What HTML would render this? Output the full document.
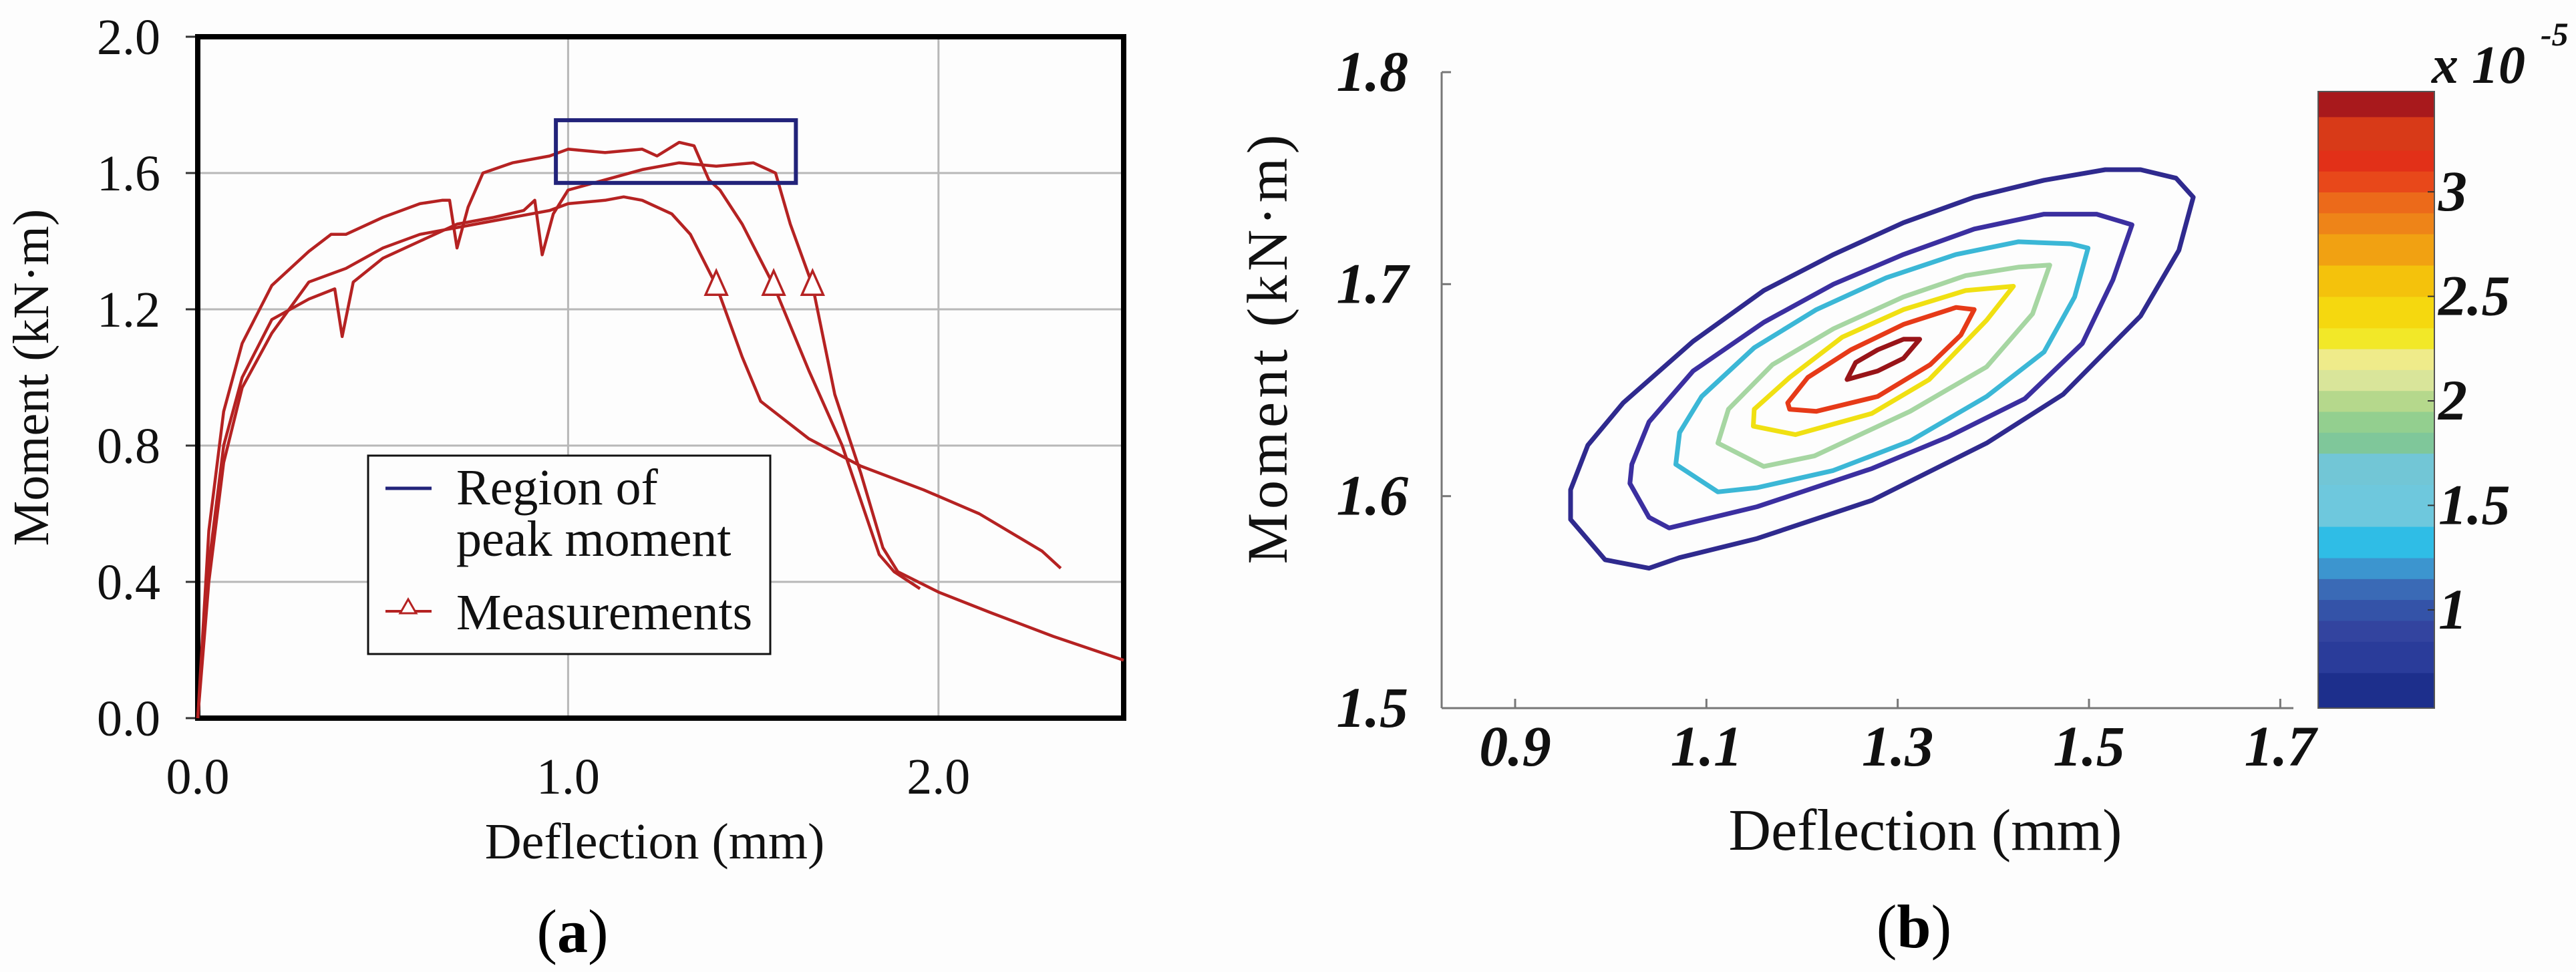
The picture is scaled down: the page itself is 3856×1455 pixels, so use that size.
<!DOCTYPE html>
<html><head><meta charset="utf-8"><style>
html,body{margin:0;padding:0;background:#fdfdfd;}
svg{display:block;font-family:"Liberation Serif",serif;}
</style></head><body>
<svg id="fig" xmlns="http://www.w3.org/2000/svg" width="3856" height="1455" viewBox="0 0 3856 1455">
<rect x="0" y="0" width="3856" height="1455" fill="#fdfdfd"/>
<g id="pa"></g>
<g id="pb"></g>
</svg>
<script>
// ---------- Panel (a) data ----------
const aXTicks = [0, 1, 2];
const aXTickLabels = ["0.0", "1.0", "2.0"];
const aYTicks = [0, 0.4, 0.8, 1.2, 1.6, 2.0];
const aYTickLabels = ["0.0", "0.4", "0.8", "1.2", "1.6", "2.0"];
const curveTopX = [0,0.03,0.07,0.12,0.2,0.3,0.36,0.4,0.5,0.6,0.66,0.68,0.70,0.73,0.77,0.85,0.95,1.0,1.1,1.2,1.24,1.3,1.34,1.38,1.41,1.47,1.555,1.65,1.74,1.84,1.88,1.95];
const curveTopY = [0,0.55,0.9,1.1,1.27,1.37,1.42,1.42,1.47,1.51,1.52,1.52,1.38,1.50,1.60,1.63,1.65,1.67,1.66,1.67,1.65,1.69,1.68,1.58,1.55,1.45,1.27,1.02,0.80,0.48,0.43,0.38];
const curveMidX = [0,0.03,0.07,0.12,0.2,0.3,0.37,0.39,0.42,0.5,0.6,0.7,0.8,0.88,0.91,0.93,0.96,1.0,1.1,1.2,1.3,1.4,1.5,1.56,1.6,1.66,1.72,1.79,1.85,1.89,2.0,2.14,2.31,2.5];
const curveMidY = [0,0.45,0.8,1.0,1.17,1.23,1.26,1.12,1.28,1.35,1.40,1.45,1.47,1.49,1.52,1.36,1.48,1.55,1.58,1.61,1.63,1.62,1.63,1.60,1.45,1.27,0.95,0.72,0.50,0.43,0.37,0.31,0.24,0.17];
const curveLowX = [0,0.03,0.07,0.12,0.2,0.3,0.4,0.5,0.6,0.7,0.8,0.9,0.95,1.0,1.1,1.15,1.2,1.28,1.33,1.40,1.47,1.52,1.65,1.79,1.96,2.11,2.28,2.33];
const curveLowY = [0,0.4,0.75,0.97,1.13,1.28,1.32,1.38,1.42,1.44,1.46,1.48,1.49,1.51,1.52,1.53,1.52,1.48,1.42,1.27,1.06,0.93,0.82,0.74,0.67,0.60,0.49,0.44];
const measX = [1.40, 1.555, 1.66];
const measY = [1.27, 1.27, 1.27];
const peakRegion = [0.967, 1.615, 1.571, 1.755]; // x0, x1, y0, y1

// ---------- Panel (b) data ----------
const bXTicks = [0.9, 1.1, 1.3, 1.5, 1.7];
const bXTickLabels = ["0.9", "1.1", "1.3", "1.5", "1.7"];
const bYTicks = [1.5, 1.6, 1.7, 1.8];
const bYTickLabels = ["1.5", "1.6", "1.7", "1.8"];
const cbTicks = [1, 1.5, 2, 2.5, 3];
const cbTickLabels = ["1", "1.5", "2", "2.5", "3"];
const cbBandEdges = [0.53,0.7,0.85,0.95,1.05,1.15,1.25,1.4,1.6,1.75,1.85,1.95,2.05,2.15,2.25,2.35,2.5,2.65,2.8,2.9,3.0,3.1,3.2,3.36,3.48];
const cbBandColors = ["#1d2f8c","#2a3c9a","#33449f","#3453a8","#3a6ab6","#3c95cf","#2fbde6","#6ec8dd","#72c6d6","#7fc79a","#93cf8f","#b5d88c","#d9e59a","#efeb8a","#f2e828","#f5d80f","#f4c20c","#f1a112","#ee8418","#ec6a1a","#e8481a","#e23018","#d83a18","#a8191c"];
const contourLevels = [0.7, 1.0, 1.5, 2.0, 2.5, 3.0, 3.4];
const contourColors = ["#2f2a8e","#3b2fa0","#3bb7d6","#a6d6a2","#f0e012","#e63a18","#981418"];
const contourX = [
 [0.958,0.994,1.040,1.072,1.153,1.273,1.393,1.473,1.554,1.594,1.609,1.591,1.554,1.517,1.453,1.380,1.306,1.233,1.160,1.086,1.013,0.976,0.958],
 [1.020,1.040,1.061,1.153,1.273,1.353,1.433,1.493,1.525,1.545,1.508,1.453,1.380,1.306,1.233,1.160,1.086,1.040,1.022],
 [1.068,1.112,1.153,1.232,1.313,1.393,1.453,1.485,1.499,1.481,1.426,1.361,1.288,1.215,1.150,1.095,1.072],
 [1.112,1.160,1.213,1.313,1.393,1.441,1.459,1.426,1.371,1.306,1.233,1.169,1.123],
 [1.149,1.193,1.273,1.333,1.393,1.421,1.371,1.306,1.242,1.187,1.150],
 [1.187,1.215,1.279,1.334,1.366,1.380,1.361,1.306,1.251,1.206,1.185],
 [1.247,1.279,1.306,1.323,1.306,1.279,1.256]
];
const contourY = [
 [1.589,1.570,1.566,1.571,1.580,1.598,1.625,1.648,1.685,1.716,1.741,1.750,1.754,1.754,1.749,1.741,1.729,1.714,1.697,1.673,1.644,1.624,1.603],
 [1.606,1.590,1.585,1.595,1.613,1.628,1.646,1.672,1.702,1.728,1.733,1.733,1.726,1.714,1.700,1.682,1.659,1.635,1.615],
 [1.615,1.602,1.604,1.612,1.626,1.647,1.668,1.694,1.717,1.719,1.720,1.714,1.703,1.688,1.670,1.647,1.630],
 [1.625,1.614,1.619,1.640,1.661,1.686,1.709,1.708,1.704,1.694,1.679,1.662,1.641],
 [1.633,1.629,1.639,1.655,1.683,1.699,1.697,1.688,1.675,1.656,1.641],
 [1.641,1.640,1.647,1.662,1.676,1.688,1.689,1.681,1.669,1.656,1.644],
 [1.655,1.659,1.665,1.674,1.674,1.669,1.663]
];

const NS = "http://www.w3.org/2000/svg";
function mk(parent, tag, attrs, text) {
  const e = document.createElementNS(NS, tag);
  for (const k in attrs) e.setAttribute(k, attrs[k]);
  if (text !== undefined) e.textContent = text;
  parent.appendChild(e);
  return e;
}

// ===== Panel (a) =====
const pa = document.getElementById("pa");
const aL = 296, aR = 1682, aT = 55, aB = 1075;
const ax = v => aL + (v - 0) / 2.5 * (aR - aL);
const ay = v => aB - v / 2.0 * (aB - aT);

mk(pa, "rect", {x: aL, y: aT, width: aR - aL, height: aB - aT, fill: "#fdfdfd"});
aXTicks.forEach((t, i) => {
  if (t > 0) {
    const g = mk(pa, "line", {x1: ax(t), x2: ax(t), y1: aT, y2: aB, stroke: "#b8b8b8", "stroke-width": 3});
    
    
  }
  const l = mk(pa, "text", {x: ax(t), y: 1188, "font-size": 76, "text-anchor": "middle", fill: "#111"}, aXTickLabels[i]);
  
  
});
aYTicks.forEach((t, i) => {
  if (t > 0 && t < 2) {
    const g = mk(pa, "line", {x1: aL, x2: aR, y1: ay(t), y2: ay(t), stroke: "#b8b8b8", "stroke-width": 3});
    
    
  }
  mk(pa, "line", {x1: aL - 18, x2: aL, y1: ay(t), y2: ay(t), stroke: "#333", "stroke-width": 3});
  const l = mk(pa, "text", {x: 240, y: ay(t) + 26, "font-size": 76, "text-anchor": "end", fill: "#111"}, aYTickLabels[i]);
  
  
});
const frameA = mk(pa, "rect", {x: aL, y: aT, width: aR - aL, height: aB - aT, fill: "none", stroke: "#000", "stroke-width": 8});



function curve(xs, ys, name) {
  const d = xs.map((x, i) => (i ? "L" : "M") + ax(x).toFixed(1) + "," + ay(ys[i]).toFixed(1)).join(" ");
  const p = mk(pa, "path", {d: d, fill: "none", stroke: "#b52222", "stroke-width": 4.5, "stroke-linejoin": "round"});
  
  
}
curve(curveLowX, curveLowY, "specimen-curve-low");
curve(curveMidX, curveMidY, "specimen-curve-mid");
curve(curveTopX, curveTopY, "specimen-curve-top");

measX.forEach((x, i) => {
  const cx = ax(x), cy = ay(measY[i]);
  const t = mk(pa, "polygon", {points: `${cx},${cy-22} ${cx-16},${cy+14} ${cx+16},${cy+14}`, fill: "#fff", stroke: "#b52222", "stroke-width": 3.5});
  
  
});

const pr = mk(pa, "rect", {x: ax(peakRegion[0]), y: ay(peakRegion[3]), width: ax(peakRegion[1]) - ax(peakRegion[0]), height: ay(peakRegion[2]) - ay(peakRegion[3]), fill: "none", stroke: "#22237a", "stroke-width": 6});



// legend
const lg = mk(pa, "g", {});


mk(lg, "rect", {x: 551, y: 682, width: 602, height: 297, fill: "#fdfdfd", stroke: "#111", "stroke-width": 3});
const l1 = mk(lg, "line", {x1: 577, x2: 646, y1: 731, y2: 731, stroke: "#22237a", "stroke-width": 5});


const t1 = mk(lg, "text", {x: 683, y: 755, "font-size": 76, fill: "#111"}, "Region of");


mk(lg, "text", {x: 683, y: 832, "font-size": 76, fill: "#111"}, "peak moment");
const l2 = mk(lg, "line", {x1: 577, x2: 646, y1: 915, y2: 915, stroke: "#b52222", "stroke-width": 4});


mk(lg, "polygon", {points: "611,897 599,918 623,918", fill: "#fff", stroke: "#b52222", "stroke-width": 3});
const t2 = mk(lg, "text", {x: 683, y: 942, "font-size": 76, fill: "#111"}, "Measurements");



const axt = mk(pa, "text", {x: 980, y: 1285, "font-size": 76, "text-anchor": "middle", fill: "#111"}, "Deflection (mm)");


const ayt = mk(pa, "text", {x: 0, y: 0, "font-size": 76, "text-anchor": "middle", fill: "#111", transform: "translate(72,565) rotate(-90)"}, "Moment (kN·m)");


const capA = mk(pa, "text", {x: 857, y: 1425, "font-size": 92, "text-anchor": "middle", fill: "#000"});


mk(capA, "tspan", {}, "(");
mk(capA, "tspan", {"font-weight": "bold"}, "a");
mk(capA, "tspan", {}, ")");

// ===== Panel (b) =====
const pb = document.getElementById("pb");
const bL = 2158, bR = 3433, bT = 108, bB = 1060;
const bxPer = (3127 - 2268) / 0.6;
const bx = v => 2268 + (v - 0.9) * bxPer;
const by = v => bB - (v - 1.5) / 0.3 * (bB - bT);

mk(pb, "line", {x1: bL, x2: bL, y1: bT, y2: bB, stroke: "#777", "stroke-width": 3});
mk(pb, "line", {x1: bL, x2: bR, y1: bB, y2: bB, stroke: "#777", "stroke-width": 3});
bXTicks.forEach((t, i) => {
  mk(pb, "line", {x1: bx(t), x2: bx(t), y1: bB, y2: bB - 14, stroke: "#777", "stroke-width": 3});
  const l = mk(pb, "text", {x: bx(t), y: 1146, "font-size": 86, "font-style": "italic", "font-weight": "bold", "text-anchor": "middle", fill: "#111"}, bXTickLabels[i]);
  
  
});
bYTicks.forEach((t, i) => {
  mk(pb, "line", {x1: bL, x2: bL + 14, y1: by(t), y2: by(t), stroke: "#777", "stroke-width": 3});
  const l = mk(pb, "text", {x: 2108, y: by(t) + 28, "font-size": 86, "font-style": "italic", "font-weight": "bold", "text-anchor": "end", fill: "#111"}, bYTickLabels[i]);
  
  
});

contourX.forEach((xs, k) => {
  const d = xs.map((x, i) => (i ? "L" : "M") + bx(x).toFixed(1) + "," + by(contourY[k][i]).toFixed(1)).join(" ") + " Z";
  const p = mk(pb, "path", {d: d, fill: "none", stroke: contourColors[k], "stroke-width": 7, "stroke-linejoin": "round"});
  
  
});

// colorbar
const cbL = 3470, cbR = 3644, cbT = 137, cbB = 1060;
const cbMin = 0.53, cbMax = 3.48;
const cy = v => cbB - (v - cbMin) / (cbMax - cbMin) * (cbB - cbT);
const cb = mk(pb, "g", {});


cbBandColors.forEach((c, i) => {
  const y0 = cy(cbBandEdges[i + 1]), y1 = cy(cbBandEdges[i]);
  const r = mk(cb, "rect", {x: cbL, y: y0, width: cbR - cbL, height: y1 - y0 + 0.8, fill: c});
  
  
});
mk(cb, "rect", {x: cbL, y: cbT, width: cbR - cbL, height: cbB - cbT, fill: "none", stroke: "#555", "stroke-width": 2});
cbTicks.forEach((t, i) => {
  mk(cb, "line", {x1: cbR - 10, x2: cbR, y1: cy(t), y2: cy(t), stroke: "#333", "stroke-width": 2});
  const l = mk(cb, "text", {x: 3650, y: cy(t) + 28, "font-size": 86, "font-style": "italic", "font-weight": "bold", fill: "#111"}, cbTickLabels[i]);
  
  
});
const sc = mk(pb, "text", {x: 3640, y: 124, "font-size": 80, "font-style": "italic", "font-weight": "bold", fill: "#111"}, "x 10");


mk(pb, "text", {x: 3803, y: 68, "font-size": 50, "font-style": "italic", "font-weight": "bold", fill: "#111"}, "-5");

const bxt = mk(pb, "text", {x: 2882, y: 1272, "font-size": 88, "text-anchor": "middle", fill: "#111"}, "Deflection (mm)");


const byt = mk(pb, "text", {x: 0, y: 0, "font-size": 86, "text-anchor": "middle", fill: "#111", "letter-spacing": 6, transform: "translate(1926,520) rotate(-90)"}, "Moment (kN·m)");


const capB = mk(pb, "text", {x: 2865, y: 1418, "font-size": 92, "text-anchor": "middle", fill: "#000"});


mk(capB, "tspan", {}, "(");
mk(capB, "tspan", {"font-weight": "bold"}, "b");
mk(capB, "tspan", {}, ")");
</script>
</body></html>
